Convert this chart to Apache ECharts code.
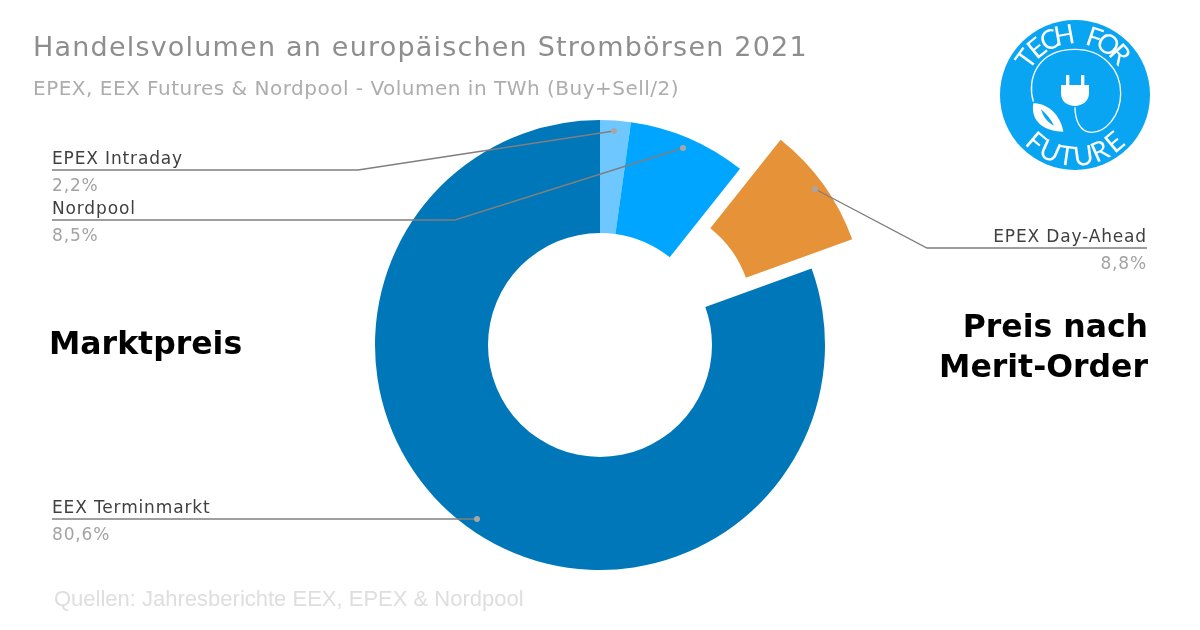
<!DOCTYPE html>
<html><head><meta charset="utf-8">
<style>html,body{margin:0;padding:0;background:#fff}#c{width:1200px;height:630px}</style>
<script src="https://cdn.jsdelivr.net/npm/echarts@6/dist/echarts.min.js"></script>
</head><body><div id="c"></div>
<script>
const categories = ['EPEX Intraday', 'Nordpool', 'EPEX Day-Ahead', 'EEX Terminmarkt'];
const shares = [2.2, 8.5, 8.8, 80.6];
const sliceColors = ['#6FC7FF', '#00A5FF', '#E59238', '#0077B9'];
const explodedSlice = 'EPEX Day-Ahead';
const titleText = 'Handelsvolumen an europäischen Strombörsen 2021';
const subtitleText = 'EPEX, EEX Futures & Nordpool - Volumen in TWh (Buy+Sell/2)';
const sourceText = 'Quellen: Jahresberichte EEX, EPEX & Nordpool';
const logoTop = 'TECH FOR';
const logoBottom = 'FUTURE';
const leaderLines = [
  [[52,170],[358,170],[614,131]],
  [[52,220],[455,220],[683,148]],
  [[1147,248],[927,248],[815,189]],
  [[52,519],[264,519],[477,519]]
];
const selectedOffset = 50;

// The reference text is slightly letter-spaced: spacing per font size in px.
const spacingBySize = {27:'1.2px', 20:'0.5px', 17:'0.85px'};
const origFill = CanvasRenderingContext2D.prototype.fillText;
CanvasRenderingContext2D.prototype.fillText = function(t,x,y,w){
  const m = /([\d.]+)px/.exec(this.font);
  const isVerdana = /DejaVu/.test(this.font) && !/bold/.test(this.font);
  this.letterSpacing = (m && isVerdana && spacingBySize[m[1]]) || '0px';
  const r = w===undefined ? origFill.call(this,t,x,y) : origFill.call(this,t,x,y,w);
  this.letterSpacing = '0px';
  return r;
};

echarts.graphic.registerShape('logoWire', echarts.graphic.extendPath('M160 275 C140 210 170 118 285 118 C370 118 422 180 422 250 C422 320 375 367 335 367 C300 367 285 330 285 292'));
echarts.graphic.registerShape('logoPlug', echarts.graphic.extendPath('M258 195 H268 V225 H303 V195 H313 V225 H327 V250 C327 275 305 288 285 288 C262 288 243 275 243 250 V225 H258 Z'));
echarts.graphic.registerShape('logoLeaf', echarts.graphic.extendPath('M160 280 C200 280 240 310 250 365 C200 365 150 340 160 280 Z'));
echarts.graphic.registerShape('logoVein', echarts.graphic.extendPath('M183 298 C200 312 212 328 222 347 C200 336 190 320 183 298 Z'));

const chart = echarts.init(document.getElementById('c'), null, {renderer:'canvas'});
const VERDANA = '"DejaVu Sans", Verdana, sans-serif';
const logoBlue = '#0AA5F2';

function logoLetters(text, mid, step, r, bottom, size){
  const out = [];
  const n = text.length;
  for(let i=0;i<n;i++){
    if(text[i]===' ') continue;
    const a = (mid + (i-(n-1)/2)*step)*Math.PI/180;
    const x = 1075 + r*Math.sin(a);
    const y = bottom ? 95 + r*Math.cos(a) : 95 - r*Math.cos(a);
    out.push({type:'text', x:x, y:y, rotation: bottom ? a : -a, z:20,
      style:{text:text[i], fill:'#fff', font:'400 '+size+'px Lato, "Open Sans", sans-serif', align:'center', verticalAlign:'middle'}});
  }
  return out;
}
const dots = leaderLines.map(l => ({type:'circle', z:30, shape:{cx:l[2][0], cy:l[2][1], r:3}, style:{fill:'#A6A6A6'}}));
const lines = leaderLines.map(l => ({type:'polyline', z:29, shape:{points:l}, style:{fill:'none', stroke:'#7F7F7F', lineWidth:1.4}}));
const sliceLabels = categories.map((c,i) => ({
  type:'text', z:31, x:leaderLines[i][0][0], y:leaderLines[i][0][1]+3,
  style:{
    text:'{n|'+c+'}\n{v|'+String(shares[i]).replace('.',',')+'%}',
    align:leaderLines[i][0][0]>600?'right':'left', verticalAlign:'middle',
    rich:{
      n:{fontFamily:VERDANA, fontSize:17, fill:'#404040', lineHeight:27, align:leaderLines[i][0][0]>600?'right':'left'},
      v:{fontFamily:VERDANA, fontSize:17, fill:'#A3A3A3', lineHeight:27, align:leaderLines[i][0][0]>600?'right':'left'}
    }
  }
}));

chart.setOption({
  animation:false,
  backgroundColor:'#fff',
  title:[
    {text:titleText, left:28, top:30, textStyle:{color:'#8E8E8E', fontFamily:VERDANA, fontWeight:'normal', fontSize:27}},
    {text:subtitleText, left:28, top:75, textStyle:{color:'#ADADAD', fontFamily:VERDANA, fontWeight:'normal', fontSize:20}},
    {text:sourceText, left:49, top:584, textStyle:{color:'#DEDEDE', fontFamily:'"Liberation Sans", Arial, sans-serif', fontWeight:'normal', fontSize:22}}
  ],
  series:[{
    type:'pie', center:[600,345], radius:[112,225], startAngle:90, clockwise:true,
    selectedMode:'single', selectedOffset:selectedOffset, silent:true,
    data:categories.map((c,i)=>({name:c, value:shares[i], selected:c===explodedSlice, itemStyle:{color:sliceColors[i]}})),
    label:{show:false},
    labelLine:{show:false}
  }],
  graphic:{elements:[
    ...lines,
    ...dots,
    ...sliceLabels,
    {type:'text', z:20, x:49, y:346, style:{text:'Marktpreis', fill:'#000', font:'bold 31.5px '+VERDANA, align:'left', verticalAlign:'middle'}},
    {type:'text', z:20, x:1148, y:329, style:{text:'Preis nach', fill:'#000', font:'bold 31.5px '+VERDANA, align:'right', verticalAlign:'middle'}},
    {type:'text', z:20, x:1148, y:369, style:{text:'Merit-Order', fill:'#000', font:'bold 31.5px '+VERDANA, align:'right', verticalAlign:'middle'}},
    {type:'circle', z:10, shape:{cx:1075,cy:95,r:75}, style:{fill:logoBlue}},
    ...logoLetters(logoTop, -3, 14.5, 60, false, 27),
    ...logoLetters(logoBottom, 0, 16, 62, true, 27),
    {type:'group', x:980, y:10, scaleX:1/3, scaleY:1/3, z:20, children:[
      {type:'logoWire', z:20, style:{fill:'none', stroke:'#fff', lineWidth:4}},
      {type:'logoPlug', z:21, style:{fill:'#fff'}},
      {type:'logoLeaf', z:21, style:{fill:'#fff'}},
      {type:'logoVein', z:22, style:{fill:logoBlue}}
    ]}
  ]}
});
</script></body></html>
